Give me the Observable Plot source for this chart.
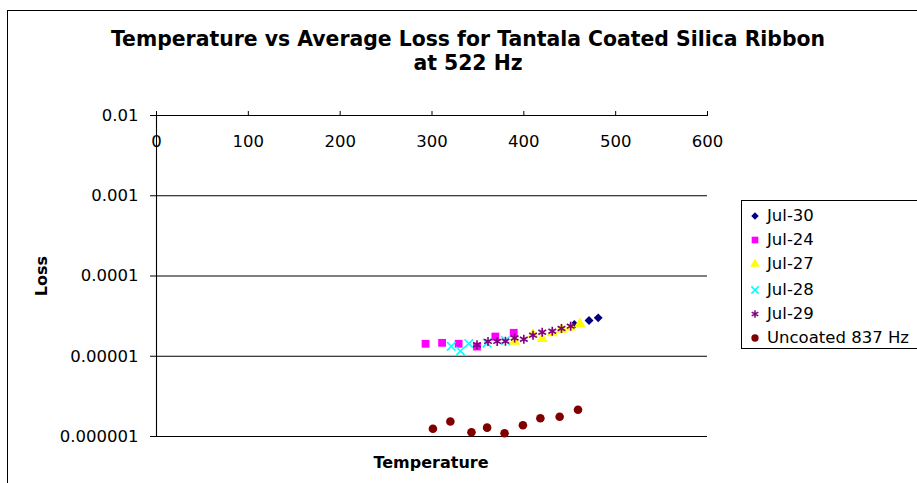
<!DOCTYPE html>
<html>
<head>
<meta charset="utf-8">
<script src="https://cdn.jsdelivr.net/npm/d3@7"></script>
<script src="https://cdn.jsdelivr.net/npm/@observablehq/plot@0.6"></script>
<style>
  body { margin: 0; background: #fff; }
  #wrap { position: relative; width: 917px; height: 483px; overflow: hidden; background: #fff; font-family: "DejaVu Sans", sans-serif; color: #000; }
  #chart { position: absolute; left: 0; top: 0; }
  #frame { position: absolute; left: 7px; top: 10px; width: 1000px; height: 1000px; border: 1px solid #000; box-sizing: border-box; pointer-events: none; }
  #title { position: absolute; left: 0; top: 27px; width: 936px; text-align: center; font-weight: bold; font-size: 20.4px; line-height: 24px; }
  #xtitle { position: absolute; left: 331px; width: 200px; top: 453px; line-height: 20px; text-align: center; font-weight: bold; font-size: 16px; }
  #ytitle { position: absolute; left: 12px; top: 266px; width: 60px; line-height: 20px; text-align: center; font-weight: bold; font-size: 16px; transform: rotate(-90deg); }
  #legend { position: absolute; left: 741px; top: 200px; width: 300px; height: 149px; border: 1px solid #000; box-sizing: border-box; }
  .lrow { position: absolute; left: 0; height: 20px; line-height: 20px; font-size: 16.5px; white-space: nowrap; }
  .lrow svg { position: absolute; left: 7px; top: 4px; }
  .lrow span { position: absolute; left: 25px; top: 0; }
</style>
</head>
<body>
<div id="wrap">
  <div id="chart"></div>
  <div id="frame"></div>
  <div id="title">Temperature vs Average Loss for Tantala Coated Silica Ribbon<br>at 522 Hz</div>
  <div id="ytitle">Loss</div>
  <div id="xtitle">Temperature</div>
  <div id="legend"></div>
</div>
<script>
// ---- data ----
const seriesNames = ["Jul-30", "Jul-24", "Jul-27", "Jul-28", "Jul-29", "Uncoated 837 Hz"];

const jul30Temp = [455, 471, 481];
const jul30Loss = [2.49e-5, 2.79e-5, 3.01e-5];

const jul24Temp = [293, 311, 329, 349, 369, 389];
const jul24Loss = [1.43e-5, 1.47e-5, 1.43e-5, 1.32e-5, 1.76e-5, 1.96e-5];

const jul27Temp = [390, 410, 420, 431, 441, 451, 461];
const jul27Loss = [1.53e-5, 1.85e-5, 1.65e-5, 1.95e-5, 2.15e-5, 2.3e-5, 2.53e-5];

const jul28Temp = [321, 331, 340, 360, 380];
const jul28Loss = [1.33e-5, 1.16e-5, 1.44e-5, 1.46e-5, 1.57e-5];

const jul29Temp = [349, 361, 371, 380, 390, 400, 410, 420, 431, 441, 451];
const jul29Loss = [1.39e-5, 1.53e-5, 1.53e-5, 1.54e-5, 1.69e-5, 1.63e-5, 1.83e-5, 1.99e-5, 2.05e-5, 2.22e-5, 2.37e-5];

const uncoatedTemp = [301, 320, 343, 360, 379, 399, 418, 439, 459];
const uncoatedLoss = [1.25e-6, 1.54e-6, 1.13e-6, 1.29e-6, 1.10e-6, 1.38e-6, 1.69e-6, 1.76e-6, 2.15e-6];

const xTicks = [0, 100, 200, 300, 400, 500, 600];
const yTicks = [1e-2, 1e-3, 1e-4, 1e-5, 1e-6];
const yTickLabels = ["0.01", "0.001", "0.0001", "0.00001", "0.000001"];

// ---- styles ----
const colors = ["#000080", "#FF00FF", "#FFFF00", "#00FFFF", "#800080", "#800000"];
const plotSymbols = ["diamond2", "square", "triangle", "times", "asterisk", "circle"];
const d3Symbols = [d3.symbolDiamond2, d3.symbolSquare, d3.symbolTriangle, d3.symbolTimes, d3.symbolAsterisk, d3.symbolCircle];
const sizes = [4.0, 4.4, 4.2, 4.0, 4.2, 4.3];
const strokeOnly = [false, false, false, true, true, false];

const temps = [jul30Temp, jul24Temp, jul27Temp, jul28Temp, jul29Temp, uncoatedTemp];
const losses = [jul30Loss, jul24Loss, jul27Loss, jul28Loss, jul29Loss, uncoatedLoss];

const tables = temps.map((t, i) => t.map((x, j) => ({temp: x, loss: losses[i][j]})));

const dotMarks = tables.map((tab, i) => Plot.dot(tab, {
  x: "temp", y: "loss",
  symbol: plotSymbols[i],
  r: sizes[i],
  fill: strokeOnly[i] ? "none" : colors[i],
  stroke: strokeOnly[i] ? colors[i] : "none",
  strokeWidth: strokeOnly[i] ? 1.6 : 0
}));

const chart = Plot.plot({
  width: 917,
  height: 483,
  marginLeft: 156,
  marginRight: 210,
  marginTop: 115,
  marginBottom: 47,
  style: { background: "transparent", fontFamily: "DejaVu Sans, sans-serif", fontSize: "16.5px", color: "#000" },
  x: { domain: [0, 600] },
  y: { type: "log", domain: [1e-6, 1e-2] },
  marks: [
    Plot.ruleY(yTicks, { stroke: "#000", strokeWidth: 1.1 }),
    Plot.ruleX([0], { stroke: "#000", strokeWidth: 1.1 }),
    Plot.axisY({ ticks: yTicks, tickFormat: d => yTickLabels[yTicks.indexOf(d)], tickSize: 6, tickPadding: 12, label: null, fontSize: 16.5 }),
    Plot.axisX({ anchor: "top", ticks: xTicks, tickSize: 5, tickFormat: () => "", label: null }),
    Plot.text(xTicks, { x: d => d, frameAnchor: "top", dy: 20, text: d => String(d), fontSize: 16.5 }),
    ...dotMarks
  ]
});
document.getElementById("chart").appendChild(chart);

// ---- legend ----
const legend = document.getElementById("legend");
const rowCenters = [15, 39, 63, 88.5, 113, 137];
seriesNames.forEach((name, i) => {
  const row = document.createElement("div");
  row.className = "lrow";
  row.style.top = (rowCenters[i] - 10) + "px";
  const sym = d3.symbol(d3Symbols[i], Math.PI * Math.pow(sizes[i] * 0.85, 2))();
  const fill = strokeOnly[i] ? "none" : colors[i];
  const stroke = strokeOnly[i] ? colors[i] : "none";
  row.innerHTML = `<svg width="12" height="12" viewBox="-6 -6 12 12"><path d="${sym}" fill="${fill}" stroke="${stroke}" stroke-width="1.5"></path></svg><span>${name}</span>`;
  legend.appendChild(row);
});
</script>
</body>
</html>
